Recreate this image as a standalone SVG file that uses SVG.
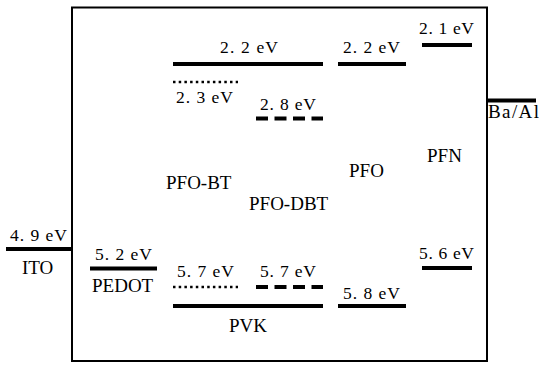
<svg xmlns="http://www.w3.org/2000/svg" width="539" height="365" viewBox="0 0 539 365">
<style>
.lvl{stroke:#000;stroke-width:4;fill:none}
.dot{stroke:#000;stroke-width:2.5;stroke-dasharray:2.5 3.2;fill:none}
.dash{stroke:#000;stroke-width:4;stroke-dasharray:12 6.5;fill:none}
text{font-family:'Liberation Serif','DejaVu Serif',serif;fill:#000}
.e{font-size:17.5px}
.n{font-size:19px}
</style>
<rect x="0" y="0" width="539" height="365" fill="#fff"/>
<g id="device-box"><rect x="72" y="7.5" width="415" height="353.5" fill="none" stroke="#000" stroke-width="2"/></g>
<g id="connectors"></g>
<g id="ITO">
<line class="lvl" x1="6" y1="249" x2="72" y2="249"/>
<text class="e" x="10" y="241" textLength="57">4. 9 eV</text>
<text class="n" x="22" y="274">ITO</text>
</g>
<g id="PEDOT">
<line class="lvl" x1="90" y1="268.5" x2="157" y2="268.5"/>
<text class="e" x="95" y="260" textLength="57">5. 2 eV</text>
<text class="n" x="92" y="292">PEDOT</text>
</g>
<g id="PVK">
<line class="lvl" x1="173" y1="64" x2="323" y2="64"/>
<text class="e" x="220" y="53" textLength="58">2. 2 eV</text>
<line class="lvl" x1="173" y1="306" x2="323" y2="306"/>
<text class="n" x="229" y="332">PVK</text>
</g>
<g id="PFO-BT">
<line class="dot" x1="173" y1="82" x2="238" y2="82"/>
<text class="e" x="176" y="103" textLength="57">2. 3 eV</text>
<line class="dot" x1="173" y1="287" x2="238" y2="287"/>
<text class="e" x="177" y="277" textLength="57">5. 7 eV</text>
<text class="n" x="166" y="189">PFO-BT</text>
</g>
<g id="PFO-DBT">
<line class="dash" x1="256" y1="118.5" x2="323" y2="118.5"/>
<text class="e" x="260" y="110" textLength="56">2. 8 eV</text>
<line class="dash" x1="256" y1="287" x2="323" y2="287"/>
<text class="e" x="260" y="277" textLength="56">5. 7 eV</text>
<text class="n" x="249" y="210">PFO-DBT</text>
</g>
<g id="PFO">
<line class="lvl" x1="338" y1="64" x2="406" y2="64"/>
<text class="e" x="343" y="53" textLength="57">2. 2 eV</text>
<line class="lvl" x1="338" y1="306" x2="406" y2="306"/>
<text class="e" x="343" y="299" textLength="57">5. 8 eV</text>
<text class="n" x="349" y="177">PFO</text>
</g>
<g id="PFN">
<line class="lvl" x1="422" y1="45" x2="472" y2="45"/>
<text class="e" x="419" y="34" textLength="55">2. 1 eV</text>
<line class="lvl" x1="422" y1="268" x2="472" y2="268"/>
<text class="e" x="419" y="259" textLength="55">5. 6 eV</text>
<text class="n" x="427" y="162">PFN</text>
</g>
<g id="Ba-Al">
<line class="lvl" x1="487" y1="100.5" x2="536" y2="100.5"/>
<text class="n" x="488" y="118" textLength="51">Ba/Al</text>
</g>
</svg>
